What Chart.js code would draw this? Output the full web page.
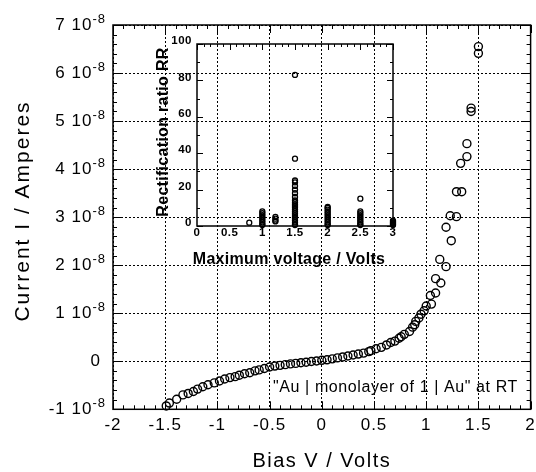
<!DOCTYPE html>
<html>
<head>
<meta charset="utf-8">
<script src="https://cdn.jsdelivr.net/npm/chart.js@4.4.1/dist/chart.umd.min.js"></script>
<style>
  html, body { margin: 0; padding: 0; background: #fff; }
  #wrap { position: relative; width: 536px; height: 472px; }
  #wrap canvas { position: absolute; left: 0; top: 0; }
</style>
</head>
<body>
<div id="wrap">
  <canvas id="ivChart" width="536" height="472"></canvas>
  <canvas id="rrChart" width="536" height="472"></canvas>
</div>
<script>
// I-V sweep, current in units of 1e-8 A
const biasV = [
  -1.49, -1.46, -1.39, -1.33, -1.28, -1.23, -1.19, -1.14, -1.09, -1.03,
  -0.98, -0.93, -0.88, -0.83, -0.79, -0.74, -0.69, -0.64, -0.60, -0.55,
  -0.50, -0.45, -0.40, -0.35, -0.30, -0.25, -0.20, -0.15, -0.10, -0.05,
  0.00, 0.05, 0.10, 0.15, 0.20, 0.25, 0.30, 0.35, 0.40, 0.45,
  0.47, 0.52, 0.57, 0.62, 0.66, 0.70, 0.74, 0.76, 0.79, 0.84,
  0.87, 0.89, 0.90, 0.93, 0.95, 0.98, 1.00, 1.05, 1.04, 1.09,
  1.09, 1.14, 1.13, 1.19, 1.24, 1.19, 1.23, 1.29, 1.29, 1.34,
  1.33, 1.39, 1.39, 1.43, 1.43, 1.50, 1.50
];
const currentI = [
  -0.93, -0.87, -0.79, -0.70, -0.67, -0.63, -0.58, -0.53, -0.49, -0.45,
  -0.41, -0.37, -0.34, -0.32, -0.29, -0.26, -0.24, -0.20, -0.18, -0.15,
  -0.12, -0.10, -0.085, -0.07, -0.055, -0.045, -0.03, -0.02, -0.005, 0.005,
  0.02, 0.03, 0.05, 0.07, 0.09, 0.11, 0.13, 0.15, 0.17, 0.20,
  0.22, 0.26, 0.29, 0.34, 0.39, 0.42, 0.48, 0.51, 0.56, 0.62,
  0.71, 0.76, 0.83, 0.90, 0.98, 1.05, 1.15, 1.19, 1.37, 1.42,
  1.72, 1.63, 2.12, 1.97, 2.51, 2.79, 3.03, 3.01, 3.53, 3.53,
  4.12, 4.26, 4.53, 5.20, 5.27, 6.41, 6.55
];

// rectification ratio vs maximum sweep voltage
const maxVoltage = [
  0.8,
  1, 1, 1, 1, 1, 1, 1, 1, 1,
  1.2, 1.2, 1.2, 1.2,
  1.5, 1.5, 1.5, 1.5, 1.5, 1.5, 1.5, 1.5, 1.5, 1.5, 1.5, 1.5,
  1.5, 1.5, 1.5, 1.5, 1.5, 1.5, 1.5, 1.5, 1.5, 1.5, 1.5,
  2, 2, 2, 2, 2, 2, 2, 2, 2, 2, 2, 2,
  2.5, 2.5, 2.5, 2.5, 2.5, 2.5, 2.5, 2.5, 2.5, 2.5,
  3, 3, 3, 3, 3, 3
];
const rectRatio = [
  1.8,
  8, 7, 6, 5, 4, 3, 2, 1, 0.5,
  5, 4, 3, 2.5,
  83, 37, 25, 24, 22, 20, 18, 16, 14, 13, 12, 11,
  10, 9, 8, 7, 6, 5, 4, 3, 2, 1, 0.5,
  10.5, 10, 9, 8, 7, 6, 5, 4, 3, 2, 1, 0.5,
  15, 8, 7, 6, 5, 4, 3, 2, 1, 0.5,
  3, 2.5, 2, 1.5, 1, 0.5
];

const biasTicks = [-2, -1.5, -1, -0.5, 0, 0.5, 1, 1.5, 2];
const currentTicks = [-1, 0, 1, 2, 3, 4, 5, 6, 7];
const maxVTicks = [0, 0.5, 1, 1.5, 2, 2.5, 3];
const rrTicks = [0, 20, 40, 60, 80, 100];

function line(ctx, x1, y1, x2, y2) {
  ctx.beginPath();
  ctx.moveTo(x1, y1);
  ctx.lineTo(x2, y2);
  ctx.stroke();
}

// frame, inward ticks and all text of the big I-V plot
const ivDecor = {
  id: 'ivDecor',
  afterDraw(chart) {
    const ctx = chart.ctx;
    const a = chart.chartArea;
    const x = chart.scales.x, y = chart.scales.y;
    ctx.save();
    ctx.strokeStyle = '#000';
    ctx.lineWidth = 1;
    for (let i = -20; i <= 20; i++) {
      const px = Math.round(x.getPixelForValue(i / 10)) + 0.5;
      const len = i % 5 === 0 ? 8 : 4;
      line(ctx, px, a.bottom, px, a.bottom - len);
      line(ctx, px, a.top, px, a.top + len);
    }
    for (let i = -5; i <= 35; i++) {
      const py = Math.round(y.getPixelForValue(i / 5)) + 0.5;
      const len = i % 5 === 0 ? 8 : 4;
      line(ctx, a.left, py, a.left + len, py);
      line(ctx, a.right, py, a.right - len, py);
    }
    ctx.lineWidth = 1.5;
    ctx.strokeRect(a.left, a.top, a.right - a.left, a.bottom - a.top);

    ctx.fillStyle = '#000';
    ctx.letterSpacing = '1px';
    ctx.font = '17px "Liberation Sans", Arial, sans-serif';
    ctx.textAlign = 'center';
    ctx.textBaseline = 'middle';
    biasTicks.forEach(v => {
      ctx.fillText(String(v), x.getPixelForValue(v), a.bottom + 16);
    });

    // y labels like "3 10" with a raised "-8"
    const right = a.left - 7;
    currentTicks.forEach(v => {
      const py = y.getPixelForValue(v);
      if (v === 0) {
        ctx.font = '17px "Liberation Sans", Arial, sans-serif';
        ctx.textAlign = 'right';
        ctx.textBaseline = 'middle';
        ctx.fillText('0', right - 5, py);
        return;
      }
      ctx.font = '13px "Liberation Sans", Arial, sans-serif';
      ctx.textAlign = 'right';
      ctx.textBaseline = 'alphabetic';
      const supW = ctx.measureText('-8').width;
      ctx.fillText('-8', right, py - 2);
      ctx.font = '17px "Liberation Sans", Arial, sans-serif';
      ctx.textBaseline = 'middle';
      ctx.fillText(v + ' 10', right - supW, py);
    });

    ctx.letterSpacing = '1.5px';
    ctx.font = '20px "Liberation Sans", Arial, sans-serif';
    ctx.textAlign = 'center';
    ctx.textBaseline = 'middle';
    ctx.fillText('Bias V / Volts', (a.left + a.right) / 2, 461);
    ctx.save();
    ctx.letterSpacing = '2px';
    ctx.font = '21px "Liberation Sans", Arial, sans-serif';
    ctx.translate(23, 211);
    ctx.rotate(-Math.PI / 2);
    ctx.fillText('Current I / Amperes', 0, 0);
    ctx.restore();

    ctx.letterSpacing = '0.6px';
    ctx.font = '16px "Liberation Sans", Arial, sans-serif';
    ctx.textAlign = 'left';
    ctx.textBaseline = 'alphabetic';
    ctx.fillText('"Au | monolayer of 1 | Au" at RT', 273, 392);
    ctx.restore();
  }
};

// frame, ticks and text of the small RR plot
const rrDecor = {
  id: 'rrDecor',
  afterDraw(chart) {
    const ctx = chart.ctx;
    const a = chart.chartArea;
    const x = chart.scales.x, y = chart.scales.y;
    ctx.save();
    ctx.strokeStyle = '#000';
    ctx.lineWidth = 1;
    for (let i = 0; i <= 30; i++) {
      const px = Math.round(x.getPixelForValue(i / 10)) + 0.5;
      const len = i % 5 === 0 ? 6 : 3;
      line(ctx, px, a.top, px, a.top + len);
    }
    for (let i = 0; i <= 10; i++) {
      const py = Math.round(y.getPixelForValue(i * 10)) + 0.5;
      const len = i % 2 === 0 ? 6 : 3;
      line(ctx, a.left, py, a.left + len, py);
      line(ctx, a.right, py, a.right - len, py);
    }
    ctx.lineWidth = 1.5;
    ctx.strokeRect(a.left, a.top, a.right - a.left, a.bottom - a.top);

    ctx.fillStyle = '#000';
    ctx.letterSpacing = '0.5px';
    ctx.font = 'bold 11.5px "Liberation Sans", Arial, sans-serif';
    ctx.textAlign = 'center';
    ctx.textBaseline = 'middle';
    maxVTicks.forEach(v => {
      ctx.fillText(String(v), x.getPixelForValue(v), a.bottom + 7);
    });
    ctx.textAlign = 'right';
    rrTicks.forEach(v => {
      ctx.fillText(String(v), a.left - 5, y.getPixelForValue(v) - 3);
    });

    ctx.letterSpacing = '0.3px';
    ctx.font = 'bold 16px "Liberation Sans", Arial, sans-serif';
    ctx.textAlign = 'center';
    ctx.fillText('Maximum voltage / Volts', 289, 260);
    ctx.save();
    ctx.translate(164, 132);
    ctx.rotate(-Math.PI / 2);
    ctx.fillText('Rectification ratio RR', 0, 0);
    ctx.restore();
    ctx.restore();
  }
};

function scaleOpts(min, max, ticks) {
  return {
    type: 'linear',
    min: min,
    max: max,
    afterBuildTicks: s => { s.ticks = ticks.map(v => ({ value: v })); },
    ticks: { display: false },
    grid: { color: '#000', lineWidth: 1, drawTicks: false },
    border: { display: false, dash: [2, 2] }
  };
}

new Chart(document.getElementById('ivChart'), {
  type: 'scatter',
  data: {
    datasets: [{
      data: biasV.map((v, i) => ({ x: v, y: currentI[i] })),
      pointStyle: 'circle',
      pointRadius: 4,
      pointBorderWidth: 1.4,
      borderColor: '#000',
      backgroundColor: 'rgba(0,0,0,0)',
      clip: false
    }]
  },
  options: {
    responsive: false,
    animation: false,
    events: [],
    layout: { padding: { left: 113, top: 25, right: 4.5, bottom: 62.7 } },
    plugins: { legend: { display: false }, tooltip: { enabled: false } },
    scales: {
      x: scaleOpts(-2, 2, biasTicks),
      y: scaleOpts(-1, 7, currentTicks)
    }
  },
  plugins: [ivDecor]
});

const rrX = scaleOpts(0, 3, maxVTicks);
const rrY = scaleOpts(0, 100, rrTicks);
rrX.grid.display = false;
rrY.grid.display = false;

new Chart(document.getElementById('rrChart'), {
  type: 'scatter',
  data: {
    datasets: [{
      data: maxVoltage.map((v, i) => ({ x: v, y: rectRatio[i] })),
      pointStyle: 'circle',
      pointRadius: 2.5,
      pointBorderWidth: 1.3,
      borderColor: '#000',
      backgroundColor: 'rgba(0,0,0,0)',
      clip: false
    }]
  },
  options: {
    responsive: false,
    animation: false,
    events: [],
    layout: { padding: { left: 197, top: 44, right: 143, bottom: 246 } },
    plugins: { legend: { display: false }, tooltip: { enabled: false } },
    scales: { x: rrX, y: rrY }
  },
  plugins: [rrDecor]
});
</script>
</body>
</html>
